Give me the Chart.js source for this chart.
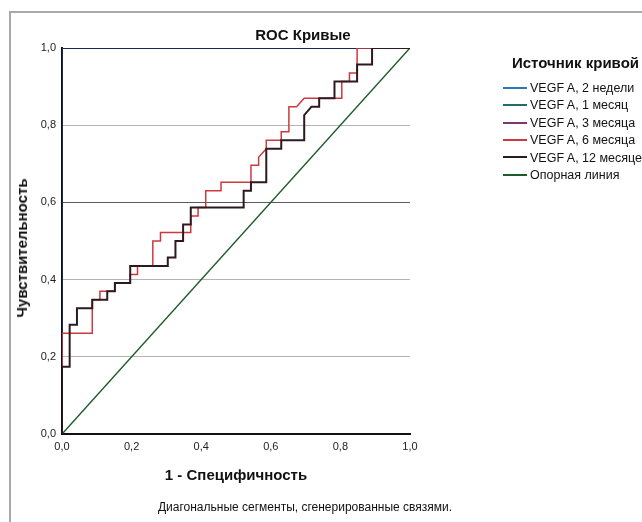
<!DOCTYPE html>
<html>
<head>
<meta charset="utf-8">
<script src="https://cdn.jsdelivr.net/npm/chart.js@4.4.1/dist/chart.umd.min.js"></script>
<style>
  body { margin: 0; width: 642px; height: 522px; overflow: hidden; position: relative; background: #fff;
         font-family: "Liberation Sans", Arial, sans-serif; color: #111; }
  #frame { position: absolute; left: 9px; top: 11px; width: 700px; height: 600px; border: 2px solid #a9a9a9; }
  #roc { position: absolute; left: 0; top: 0; }
  #title { position: absolute; left: 203px; top: 26px; width: 200px; text-align: center; font-weight: bold; font-size: 15px; line-height: 18px; }
  #yTitle { position: absolute; left: 22px; top: 248px; transform: translate(-50%, -50%) rotate(-90deg); font-weight: bold; font-size: 15px; line-height: 18px; white-space: nowrap; }
  #legendTitle { position: absolute; left: 512px; top: 54px; font-weight: bold; font-size: 15px; line-height: 18px; white-space: nowrap; }
  .item { position: absolute; left: 503px; font-size: 12.5px; line-height: 14px; white-space: nowrap; }
  .item span { display: inline-block; width: 24px; height: 2px; vertical-align: middle; margin-right: 3px; position: relative; top: -1px; }
  #note { position: absolute; left: 105px; top: 500px; width: 400px; text-align: center; font-size: 12px; line-height: 14px; }
</style>
</head>
<body>
<div id="frame"></div>
<canvas id="roc" width="642" height="522"></canvas>
<div id="title">ROC Кривые</div>
<div id="yTitle">Чувствительность</div>
<div id="legendTitle">Источник кривой</div>
<div id="legend"></div>
<div id="note">Диагональные сегменты, сгенерированные связями.</div>
<script>
// curve names, as in the legend
const curveNames = ['VEGF A, 2 недели', 'VEGF A, 1 месяц', 'VEGF A, 3 месяца', 'VEGF A, 6 месяца', 'VEGF A, 12 месяце', 'Опорная линия'];
const curveColors = ['#2a78b8', '#1f6e6e', '#7a3a6c', '#cc3a40', '#2e1a1e', '#1d5c2b'];

// 2 weeks, 1 month, 3 months - all run up the left edge and along the top
const fprPerfect = [0, 0, 1];
const tprPerfect = [0, 1, 1];

// 6 months
const fpr6 = [0, 0, 0.087, 0.087, 0.109, 0.109, 0.152, 0.152, 0.196, 0.196, 0.217, 0.217, 0.261, 0.261, 0.283, 0.283,
  0.370, 0.370, 0.391, 0.391, 0.413, 0.413, 0.457, 0.457, 0.543, 0.543, 0.565, 0.565, 0.587, 0.587, 0.630, 0.630,
  0.652, 0.652, 0.674, 0.696, 0.804, 0.804, 0.826, 0.826, 0.848, 0.848, 1];
const tpr6 = [0, 0.261, 0.261, 0.348, 0.348, 0.370, 0.370, 0.391, 0.391, 0.413, 0.413, 0.435, 0.435, 0.500, 0.500, 0.522,
  0.522, 0.565, 0.565, 0.587, 0.587, 0.630, 0.630, 0.652, 0.652, 0.696, 0.696, 0.717, 0.739, 0.761, 0.761, 0.783,
  0.783, 0.848, 0.848, 0.870, 0.870, 0.913, 0.913, 0.935, 0.935, 1, 1];

// 12 months
const fpr12 = [0, 0, 0.022, 0.022, 0.043, 0.043, 0.087, 0.087, 0.130, 0.130, 0.152, 0.152, 0.196, 0.196, 0.304, 0.304,
  0.326, 0.326, 0.348, 0.348, 0.370, 0.370, 0.522, 0.522, 0.543, 0.543, 0.587, 0.587, 0.630, 0.630, 0.696, 0.696,
  0.717, 0.739, 0.739, 0.783, 0.783, 0.848, 0.848, 0.891, 0.891, 1];
const tpr12 = [0, 0.174, 0.174, 0.283, 0.283, 0.326, 0.326, 0.348, 0.348, 0.370, 0.370, 0.391, 0.391, 0.435, 0.435, 0.457,
  0.457, 0.500, 0.500, 0.543, 0.543, 0.587, 0.587, 0.630, 0.630, 0.652, 0.652, 0.739, 0.739, 0.761, 0.761, 0.826,
  0.848, 0.848, 0.870, 0.870, 0.913, 0.913, 0.957, 0.957, 1, 1];

// reference diagonal
const fprRef = [0, 1];
const tprRef = [0, 1];

const axisTicks = [0, 0.2, 0.4, 0.6, 0.8, 1];

function toPoints(xs, ys) {
  return xs.map((x, i) => ({ x: x, y: ys[i] }));
}

const series = [
  toPoints(fprPerfect, tprPerfect),
  toPoints(fprPerfect, tprPerfect),
  toPoints(fprPerfect, tprPerfect),
  toPoints(fpr6, tpr6),
  toPoints(fpr12, tpr12),
  toPoints(fprRef, tprRef)
];
// lower order is drawn on top; the three overlapping curves blend to a dark line
const drawOrder = [4, 2, 3, 1, 0, 5];
const widths = [2, 2, 2, 1.5, 2, 1.5];
const lineColors = ['#2a78b8', '#1b2a55', '#3a1f45', '#cc3a40', '#2e1a1e', '#1d5c2b'];

const datasets = series.map((pts, i) => ({
  label: curveNames[i],
  data: pts,
  borderColor: lineColors[i],
  borderWidth: widths[i],
  showLine: true,
  pointRadius: 0,
  fill: false,
  order: drawOrder[i]
}));

// legend as html text
const legend = document.getElementById('legend');
curveNames.forEach((name, i) => {
  const div = document.createElement('div');
  div.className = 'item';
  div.style.top = (81 + i * 17.4) + 'px';
  div.innerHTML = '<span style="background:' + curveColors[i] + '"></span>' + name;
  legend.appendChild(div);
});

const fmt = v => v.toFixed(1).replace('.', ',');
const tickFont = { family: '"Liberation Sans", Arial, sans-serif', size: 11 };
const titleFont = { family: '"Liberation Sans", Arial, sans-serif', size: 15, weight: 'bold' };

new Chart(document.getElementById('roc'), {
  type: 'scatter',
  data: { datasets: datasets },
  options: {
    responsive: false,
    animation: false,
    devicePixelRatio: 1,
    layout: { padding: { left: 0, right: 232, top: 48, bottom: 0 } },
    plugins: { legend: { display: false }, tooltip: { enabled: false } },
    scales: {
      x: {
        type: 'linear', min: 0, max: 1,
        afterBuildTicks: s => { s.ticks = axisTicks.map(v => ({ value: v })); },
        afterFit: s => { s.height = 88; },
        grid: { display: false, drawTicks: false },
        border: { display: true, color: '#111', width: 2 },
        ticks: { callback: fmt, font: tickFont, color: '#222', padding: 6, maxRotation: 0 },
        title: { display: true, text: '1 - Специфичность', font: titleFont, color: '#111', padding: { top: 0, bottom: 37 } }
      },
      y: {
        type: 'linear', min: 0, max: 1,
        afterBuildTicks: s => { s.ticks = axisTicks.map(v => ({ value: v })); },
        afterFit: s => { s.width = 62; },
        grid: {
          drawTicks: false,
          color: ctx => Math.abs(ctx.tick.value - 0.6) < 1e-6 ? '#5a5a5a' : '#b4b4b4',
          lineWidth: 1
        },
        border: { display: true, color: '#111', width: 2 },
        ticks: { callback: fmt, font: tickFont, color: '#222', padding: 6 }
      }
    }
  }
});
</script>
</body>
</html>
